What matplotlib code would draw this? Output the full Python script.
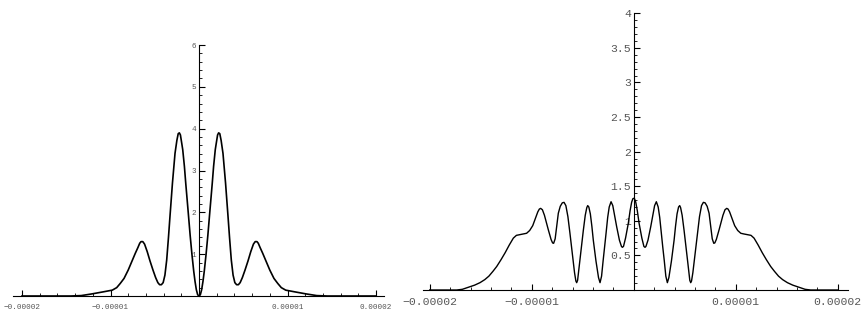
import matplotlib
matplotlib.use("Agg")
import matplotlib.pyplot as plt
from matplotlib.ticker import MultipleLocator
import numpy as np

# left panel, left half (x in units of 1e-5); the picture is mirror-symmetric
xl_half = [-2.0, -1.6, -1.45, -1.33, -1.21, -1.08, -0.98, -0.93, -0.89, -0.847,
           -0.80, -0.76, -0.72, -0.69, -0.67, -0.655, -0.635, -0.615, -0.585,
           -0.554, -0.52, -0.49, -0.465, -0.445, -0.425, -0.405, -0.385, -0.365,
           -0.345, -0.328, -0.30, -0.271, -0.25, -0.235, -0.222, -0.21, -0.195,
           -0.184, -0.165, -0.15, -0.121, -0.10, -0.08, -0.06, -0.045, -0.03,
           -0.015]
yl_half = [0.0, 0.0, 0.0, 0.01, 0.05, 0.10, 0.14, 0.20, 0.30, 0.42,
           0.62, 0.82, 1.02, 1.16, 1.26, 1.30, 1.30, 1.24, 1.06,
           0.84, 0.62, 0.44, 0.32, 0.27, 0.27, 0.32, 0.50, 0.86,
           1.4, 1.9, 2.7, 3.41, 3.72, 3.88, 3.9, 3.85, 3.65,
           3.5, 3.1, 2.7, 1.98, 1.45, 1.0, 0.6, 0.35, 0.15,
           0.03]
x_left = xl_half + [0.0] + [-v for v in xl_half[::-1]]
y_left = yl_half + [0.0] + yl_half[::-1]

# right panel, left half (x in units of 1e-5)
xr_half = [-2.0, -1.735, -1.68, -1.62, -1.56, -1.507, -1.46, -1.42, -1.38,
           -1.343, -1.30, -1.26, -1.22, -1.18, -1.15, -1.115, -1.08, -1.05,
           -1.02, -0.99, -0.965, -0.94, -0.925, -0.912, -0.895, -0.875, -0.855,
           -0.837, -0.81, -0.795, -0.785, -0.77, -0.755, -0.739, -0.72, -0.70,
           -0.683, -0.665, -0.645, -0.625, -0.60, -0.58, -0.567, -0.559, -0.55,
           -0.53, -0.51, -0.494, -0.475, -0.46, -0.451, -0.44, -0.425, -0.41,
           -0.396, -0.37, -0.345, -0.33, -0.315, -0.30, -0.285, -0.271, -0.255,
           -0.24, -0.222, -0.205, -0.19, -0.167, -0.14, -0.12, -0.111, -0.10,
           -0.08, -0.053, -0.035, -0.02, -0.008]
yr_half = [0.0, 0.0, 0.01, 0.04, 0.07, 0.106, 0.15, 0.2, 0.27,
           0.34, 0.44, 0.54, 0.65, 0.75, 0.79, 0.80, 0.81, 0.82,
           0.86, 0.93, 1.03, 1.13, 1.17, 1.18, 1.16, 1.08, 0.97,
           0.87, 0.73, 0.68, 0.675, 0.74, 0.92, 1.11, 1.21, 1.26,
           1.267, 1.22, 1.06, 0.82, 0.5, 0.25, 0.13, 0.106, 0.14,
           0.4, 0.66, 0.86, 1.08, 1.19, 1.22, 1.2, 1.1, 0.92,
           0.72, 0.42, 0.18, 0.106, 0.2, 0.42, 0.62, 0.82, 1.05,
           1.2, 1.276, 1.22, 1.10, 0.915, 0.72, 0.63, 0.617, 0.63,
           0.75, 0.963, 1.15, 1.27, 1.32]
x_right = xr_half + [0.0] + [-v for v in xr_half[::-1]]
y_right = yr_half + [1.325] + yr_half[::-1]

x_ticks = [-2e-5, -1e-5, 1e-5, 2e-5]
x_labels = ["\u22120.00002", "\u22120.00001", "0.00001", "0.00002"]
left_yticks = [1, 2, 3, 4, 5, 6]
left_ylabels = ["1", "2", "3", "4", "5", "6"]
right_yticks = [0.5, 1, 1.5, 2, 2.5, 3, 3.5, 4]
right_ylabels = ["0.5", "1", "1.5", "2", "2.5", "3", "3.5", "4"]

W, H = 864, 320
fig = plt.figure(figsize=(W / 100, H / 100), dpi=100)
lab_col = "#555555"
mono = ["Liberation Mono", "DejaVu Sans Mono"]


def style(ax, fs, ymin_step, ymaj, ylabels, xpad, ypad):
    for s in ["top", "right"]:
        ax.spines[s].set_visible(False)
    ax.spines["left"].set_position(("data", 0))
    ax.spines["bottom"].set_position(("data", 0))
    for s in ["left", "bottom"]:
        ax.spines[s].set_linewidth(0.8)
    ax.set_xticks(x_ticks)
    ax.set_xticklabels(x_labels, fontfamily=mono, fontsize=fs, color=lab_col)
    ax.set_yticks(ymaj)
    ax.set_yticklabels(ylabels, fontfamily=mono, fontsize=fs, color=lab_col)
    ax.xaxis.set_minor_locator(MultipleLocator(0.2e-5))
    ax.yaxis.set_minor_locator(MultipleLocator(ymin_step))
    ax.tick_params(axis="x", which="major", direction="in", length=4, width=0.8, pad=xpad)
    ax.tick_params(axis="y", which="major", direction="in", length=4, width=0.8, pad=ypad)
    ax.tick_params(which="minor", direction="in", length=2, width=0.6)
    ax.patch.set_alpha(0)


# left panel: x=0 at px 199, 88.5 px per 1e-5; y 0..6 at px 296..45
axl = fig.add_axes([13 / W, (H - 296) / H, 371 / W, 251 / H])
axl.plot(np.array(x_left) * 1e-5, y_left, color="black", lw=1.2)
axl.set_xlim((13 - 199) / 88.5 * 1e-5, (384 - 199) / 88.5 * 1e-5)
axl.set_ylim(0, 6)
style(axl, 5.5, 0.2, left_yticks, left_ylabels, 6, 2)

# right panel: x=0 at px 633.7, 102 px per 1e-5; y 0..4 at px 290..13.3
axr = fig.add_axes([423 / W, (H - 290) / H, 425 / W, 276.7 / H])
axr.plot(np.array(x_right) * 1e-5, y_right, color="black", lw=1.0)
axr.set_xlim((423 - 633.7) / 102 * 1e-5, (848 - 633.7) / 102 * 1e-5)
axr.set_ylim(0, 4)
style(axr, 8.2, 0.1, right_yticks, right_ylabels, 5, 2)

fig.savefig("out.png", dpi=100)
